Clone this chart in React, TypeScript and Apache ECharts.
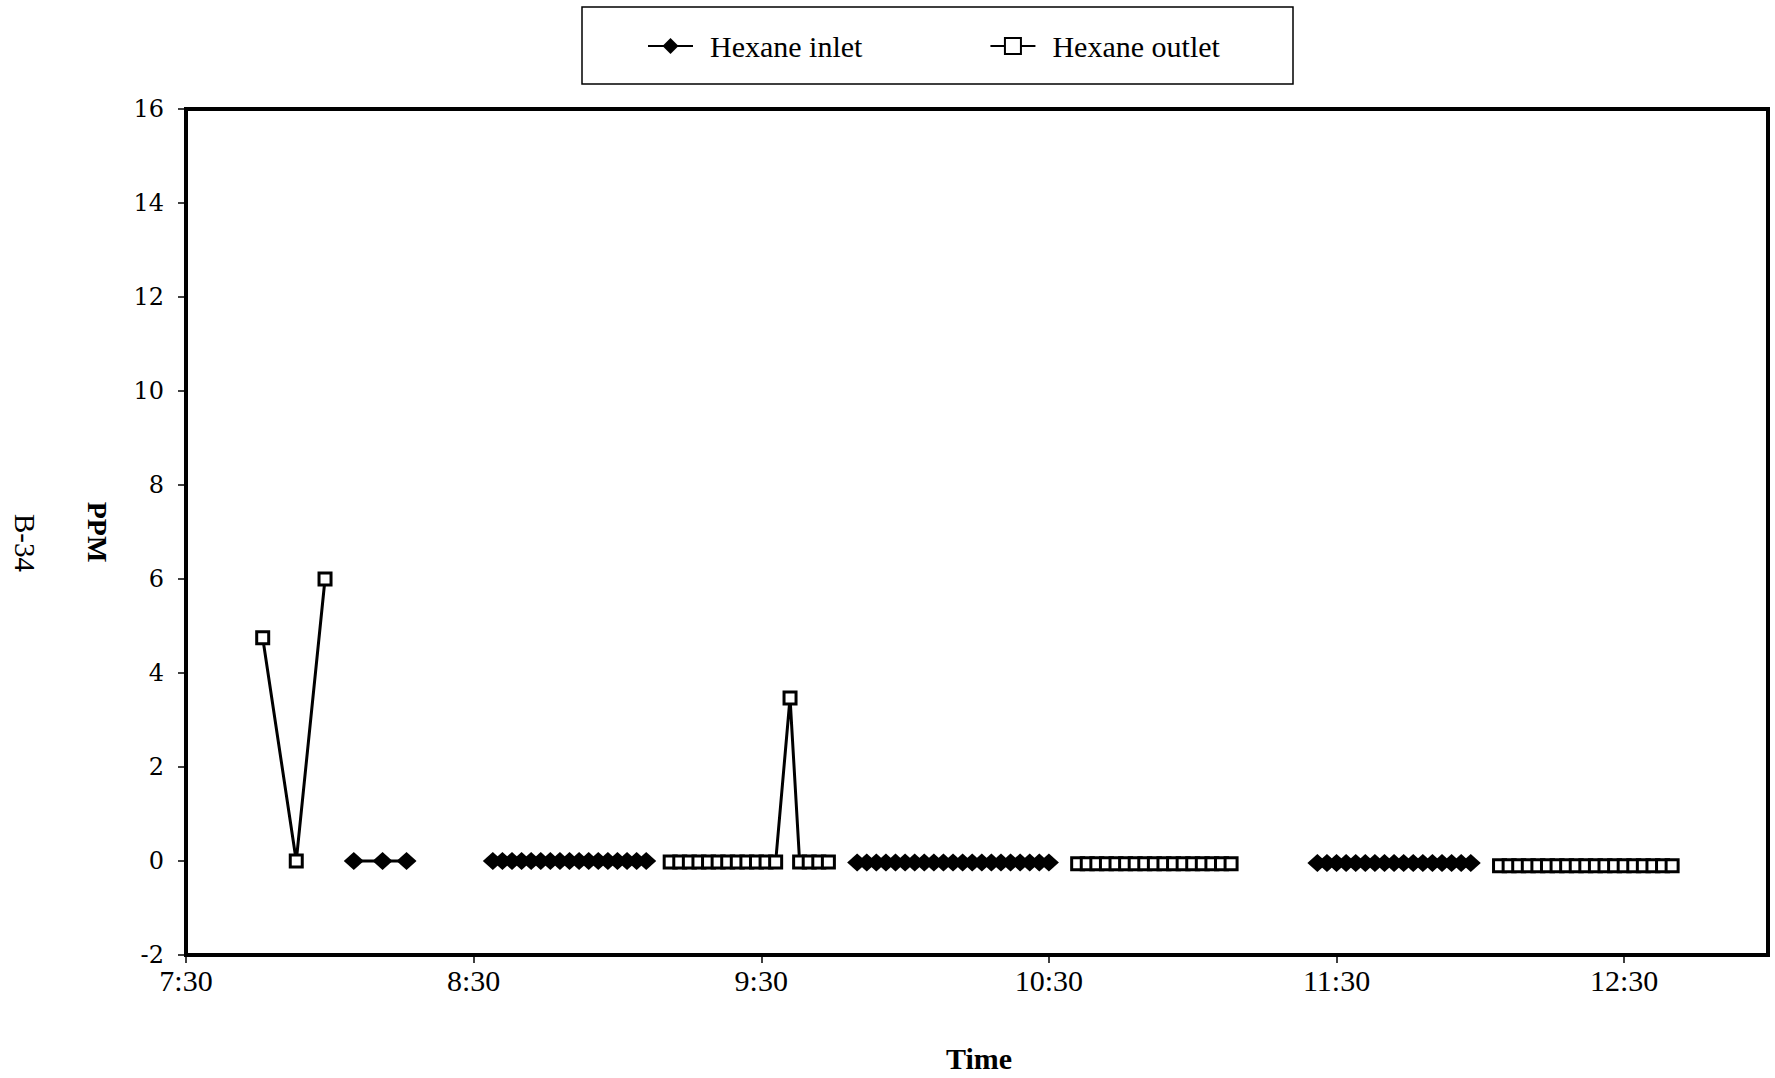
import React, { useEffect, useRef } from "react";
import * as echarts from "echarts";

// ---- data (times as H:MM, values in PPM) ----
const inletTimes1 = ["8:05", "8:11", "8:16"];
const inletValues1 = [0, 0, 0];
const inletTimes2 = ["8:34", "8:36", "8:38", "8:40", "8:42", "8:44", "8:46", "8:48", "8:50", "8:52", "8:54", "8:56", "8:58", "9:00", "9:02", "9:04", "9:06"];
const inletValues2 = [0, 0, 0, 0, 0, 0, 0, 0, 0, 0, 0, 0, 0, 0, 0, 0, 0];
const inletTimes3 = ["9:50", "9:52", "9:54", "9:56", "9:58", "10:00", "10:02", "10:04", "10:06", "10:08", "10:10", "10:12", "10:14", "10:16", "10:18", "10:20", "10:22", "10:24", "10:26", "10:28", "10:30"];
const inletValues3 = [-0.03, -0.03, -0.03, -0.03, -0.03, -0.03, -0.03, -0.03, -0.03, -0.03, -0.03, -0.03, -0.03, -0.03, -0.03, -0.03, -0.03, -0.03, -0.03, -0.03, -0.03];
const inletTimes4 = ["11:26", "11:28", "11:30", "11:32", "11:34", "11:36", "11:38", "11:40", "11:42", "11:44", "11:46", "11:48", "11:50", "11:52", "11:54", "11:56", "11:58"];
const inletValues4 = [-0.04, -0.04, -0.04, -0.04, -0.04, -0.04, -0.04, -0.04, -0.04, -0.04, -0.04, -0.04, -0.04, -0.04, -0.04, -0.04, -0.04];

const outletTimes1 = ["7:46", "7:53", "7:59"];
const outletValues1 = [4.75, 0, 6.0];
const outletTimes2 = ["9:11", "9:13", "9:15", "9:17", "9:19", "9:21", "9:23", "9:25", "9:27", "9:29", "9:31", "9:33", "9:36", "9:38", "9:40", "9:42", "9:44"];
const outletValues2 = [-0.02, -0.02, -0.02, -0.02, -0.02, -0.02, -0.02, -0.02, -0.02, -0.02, -0.02, -0.02, 3.47, -0.02, -0.02, -0.02, -0.02];
const outletTimes3 = ["10:36", "10:38", "10:40", "10:42", "10:44", "10:46", "10:48", "10:50", "10:52", "10:54", "10:56", "10:58", "11:00", "11:02", "11:04", "11:06", "11:08"];
const outletValues3 = [-0.06, -0.06, -0.06, -0.06, -0.06, -0.06, -0.06, -0.06, -0.06, -0.06, -0.06, -0.06, -0.06, -0.06, -0.06, -0.06, -0.06];
const outletTimes4 = ["12:04", "12:06", "12:08", "12:10", "12:12", "12:14", "12:16", "12:18", "12:20", "12:22", "12:24", "12:26", "12:28", "12:30", "12:32", "12:34", "12:36", "12:38", "12:40"];
const outletValues4 = [-0.1, -0.1, -0.1, -0.1, -0.1, -0.1, -0.1, -0.1, -0.1, -0.1, -0.1, -0.1, -0.1, -0.1, -0.1, -0.1, -0.1, -0.1, -0.1];

const xMinTime = "7:30";
const xMaxTime = "13:00";
const xStepMinutes = 60;
const yMin = -2;
const yMax = 16;
const yStep = 2;

const SERIF = '"Liberation Serif", "Times New Roman", serif';

function toMin(t: string): number {
  const [h, m] = t.split(":").map(Number);
  return h * 60 + m;
}
function fmt(v: number): string {
  const h = Math.floor(v / 60);
  const m = Math.round(v % 60);
  return h + ":" + (m < 10 ? "0" + m : "" + m);
}
function pts(times: string[], values: number[]) {
  return times.map((t, i) => [toMin(t), values[i]]);
}

const inletGroups = [
  pts(inletTimes1, inletValues1),
  pts(inletTimes2, inletValues2),
  pts(inletTimes3, inletValues3),
  pts(inletTimes4, inletValues4),
];
const outletGroups = [
  pts(outletTimes1, outletValues1),
  pts(outletTimes2, outletValues2),
  pts(outletTimes3, outletValues3),
  pts(outletTimes4, outletValues4),
];

export default function App() {
  const ref = useRef<HTMLDivElement>(null);
  useEffect(() => {
    document.body.style.margin = "0";
    if (!ref.current) return;
    const chart = echarts.init(ref.current, null, { renderer: "svg" });

    const inletSeries = inletGroups.map((d) => ({
      name: "Hexane inlet",
      type: "line",
      data: d,
      symbol: "diamond",
      symbolSize: [20, 18],
      showAllSymbol: true,
      lineStyle: { color: "#000", width: 3 },
      itemStyle: { color: "#000", borderColor: "#000", borderWidth: 0 },
      emphasis: { disabled: true },
      z: 3,
    }));
    const outletSeries = outletGroups.map((d) => ({
      name: "Hexane outlet",
      type: "line",
      data: d,
      symbol: "rect",
      symbolSize: 12,
      showAllSymbol: true,
      lineStyle: { color: "#000", width: 3 },
      itemStyle: { color: "#fff", borderColor: "#000", borderWidth: 3 },
      emphasis: { disabled: true },
      z: 3,
    }));

    chart.setOption({
      animation: false,
      backgroundColor: "#fff",
      grid: {
        left: 186,
        right: 7,
        top: 109,
        bottom: 123,
        show: true,
        borderColor: "#000",
        borderWidth: 4,
        backgroundColor: "transparent",
      },
      legend: {
        data: ["Hexane inlet", "Hexane outlet"],
        left: 647,
        top: 28,
        padding: 0,
        itemWidth: 45,
        itemHeight: 20,
        itemGap: 127,
        textStyle: {
          fontFamily: SERIF,
          fontSize: 30,
          color: "#000",
          padding: [0, 0, 0, 12],
          lineHeight: 36,
        },
        selectedMode: false,
      },
      xAxis: {
        type: "value",
        min: toMin(xMinTime),
        max: toMin(xMaxTime),
        interval: xStepMinutes,
        axisLine: { show: true, onZero: false, lineStyle: { color: "#000", width: 4 } },
        axisTick: { show: true, inside: false, length: 8, lineStyle: { color: "#000", width: 1.5 } },
        axisLabel: {
          formatter: (v: number) => fmt(v),
          fontFamily: SERIF,
          fontSize: 30,
          color: "#000",
          margin: 10,
          showMaxLabel: false,
        },
        splitLine: { show: false },
      },
      yAxis: {
        type: "value",
        min: yMin,
        max: yMax,
        interval: yStep,
        axisLine: { show: true, onZero: false, lineStyle: { color: "#000", width: 4 } },
        axisTick: { show: true, inside: false, length: 8, lineStyle: { color: "#000", width: 1.5 } },
        axisLabel: {
          fontFamily: '"DejaVu Serif", serif',
          fontSize: 24,
          color: "#000",
          margin: 22,
        },
        splitLine: { show: false },
      },
      graphic: [
        {
          type: "rect",
          shape: { x: 582, y: 7, width: 711, height: 77 },
          style: { fill: "none", stroke: "#000", lineWidth: 1.5 },
          silent: true,
        },
        {
          type: "text",
          x: 979,
          y: 1058,
          style: {
            text: "Time",
            font: "bold 30px " + SERIF,
            fill: "#000",
            align: "center",
            verticalAlign: "middle",
          },
        },
        {
          type: "text",
          x: 97,
          y: 532,
          rotation: -Math.PI / 2,
          style: {
            text: "PPM",
            font: "bold 28px " + SERIF,
            fill: "#000",
            align: "center",
            verticalAlign: "middle",
          },
        },
        {
          type: "text",
          x: 25,
          y: 543,
          rotation: -Math.PI / 2,
          style: {
            text: "B-34",
            font: "29px " + SERIF,
            fill: "#000",
            align: "center",
            verticalAlign: "middle",
          },
        },
      ],
      series: [...inletSeries, ...outletSeries],
    });

    return () => chart.dispose();
  }, []);

  return <div ref={ref} style={{ width: 1775, height: 1078 }} />;
}
